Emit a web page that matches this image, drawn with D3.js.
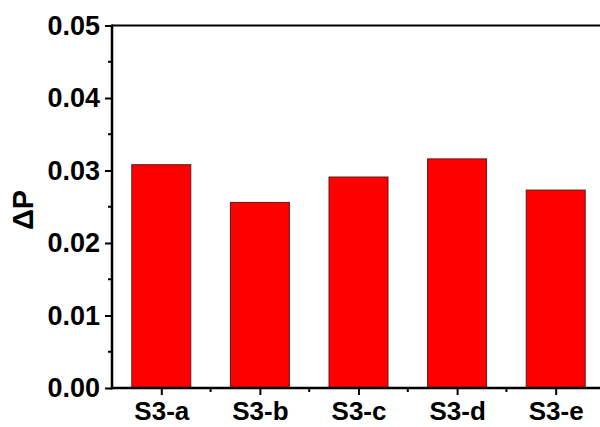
<!DOCTYPE html>
<html><head><meta charset="utf-8">
<script src="https://cdn.jsdelivr.net/npm/d3@7"></script>
<style>body{margin:0;background:#fff}svg{display:block}</style>
</head><body>
<svg id="c" width="600" height="427"></svg>
<script>
const categories = ["S3-a","S3-b","S3-c","S3-d","S3-e"];
const values = [0.0308, 0.0256, 0.0291, 0.0316, 0.0273];
const yTicks = [0.00, 0.01, 0.02, 0.03, 0.04, 0.05];
const yMinorTicks = [0.005, 0.015, 0.025, 0.035, 0.045];

const svg = d3.select("#c");
const L = 112, T = 25.5, B = 388, R = 605;
const font = "'Liberation Sans', Arial, sans-serif";

const xc = d3.scalePoint().domain(categories).range([L, R]).padding(0.5);
const y = d3.scaleLinear().domain([0, 0.05]).range([B, T]);

// bars
svg.append("g").selectAll("rect").data(values).join("rect")
  .attr("x", (d,i) => xc(categories[i]) - 29.5)
  .attr("width", 59)
  .attr("y", d => y(d))
  .attr("height", d => B - y(d))
  .attr("fill", "#ff0000")
  .attr("stroke", "#5a1a1a")
  .attr("stroke-width", 1);

// top frame line
svg.append("line").attr("x1", L).attr("x2", 600).attr("y1", T).attr("y2", T)
  .attr("stroke", "#000").attr("stroke-width", 2.2);

// y axis
const yAxis = d3.axisLeft(y).tickValues(yTicks).tickFormat(d3.format(".2f")).tickSize(7).tickPadding(5);
const gy = svg.append("g").attr("transform", `translate(${L},0)`).call(yAxis);
gy.select(".domain").remove();
gy.selectAll(".tick line").attr("stroke-width", 2);
gy.selectAll("text").attr("font-family", font).attr("font-weight", "bold").attr("font-size", 27).attr("fill", "#000");
svg.append("g").selectAll("line").data(yMinorTicks).join("line")
  .attr("x1", L - 4).attr("x2", L).attr("y1", d => y(d)).attr("y2", d => y(d))
  .attr("stroke", "#000").attr("stroke-width", 2);

// x axis
const xAxis = d3.axisBottom(xc).tickSize(7).tickPadding(7);
const gx = svg.append("g").attr("transform", `translate(0,${B})`).call(xAxis);
gx.select(".domain").remove();
gx.selectAll(".tick line").attr("stroke-width", 2);
gx.selectAll("text").attr("font-family", font).attr("font-weight", "bold").attr("font-size", 26).attr("fill", "#000");
// minor x ticks between categories
const bounds = categories.slice(1).map(c => xc(c) - xc.step()/2);
svg.append("g").selectAll("line").data(bounds).join("line")
  .attr("x1", d => d).attr("x2", d => d).attr("y1", B).attr("y2", B + 4)
  .attr("stroke", "#000").attr("stroke-width", 2);

// axis lines
svg.append("line").attr("x1", L).attr("x2", L).attr("y1", T - 1).attr("y2", B + 1.2)
  .attr("stroke", "#000").attr("stroke-width", 2.5);
svg.append("line").attr("x1", L - 1.2).attr("x2", 600).attr("y1", B).attr("y2", B)
  .attr("stroke", "#000").attr("stroke-width", 2.5);

// y label
svg.append("text").attr("transform", "translate(33,210) rotate(-90)")
  .attr("text-anchor", "middle").attr("font-family", font).attr("font-weight", "bold")
  .attr("font-size", 29).text("ΔP");
</script>
</body></html>
